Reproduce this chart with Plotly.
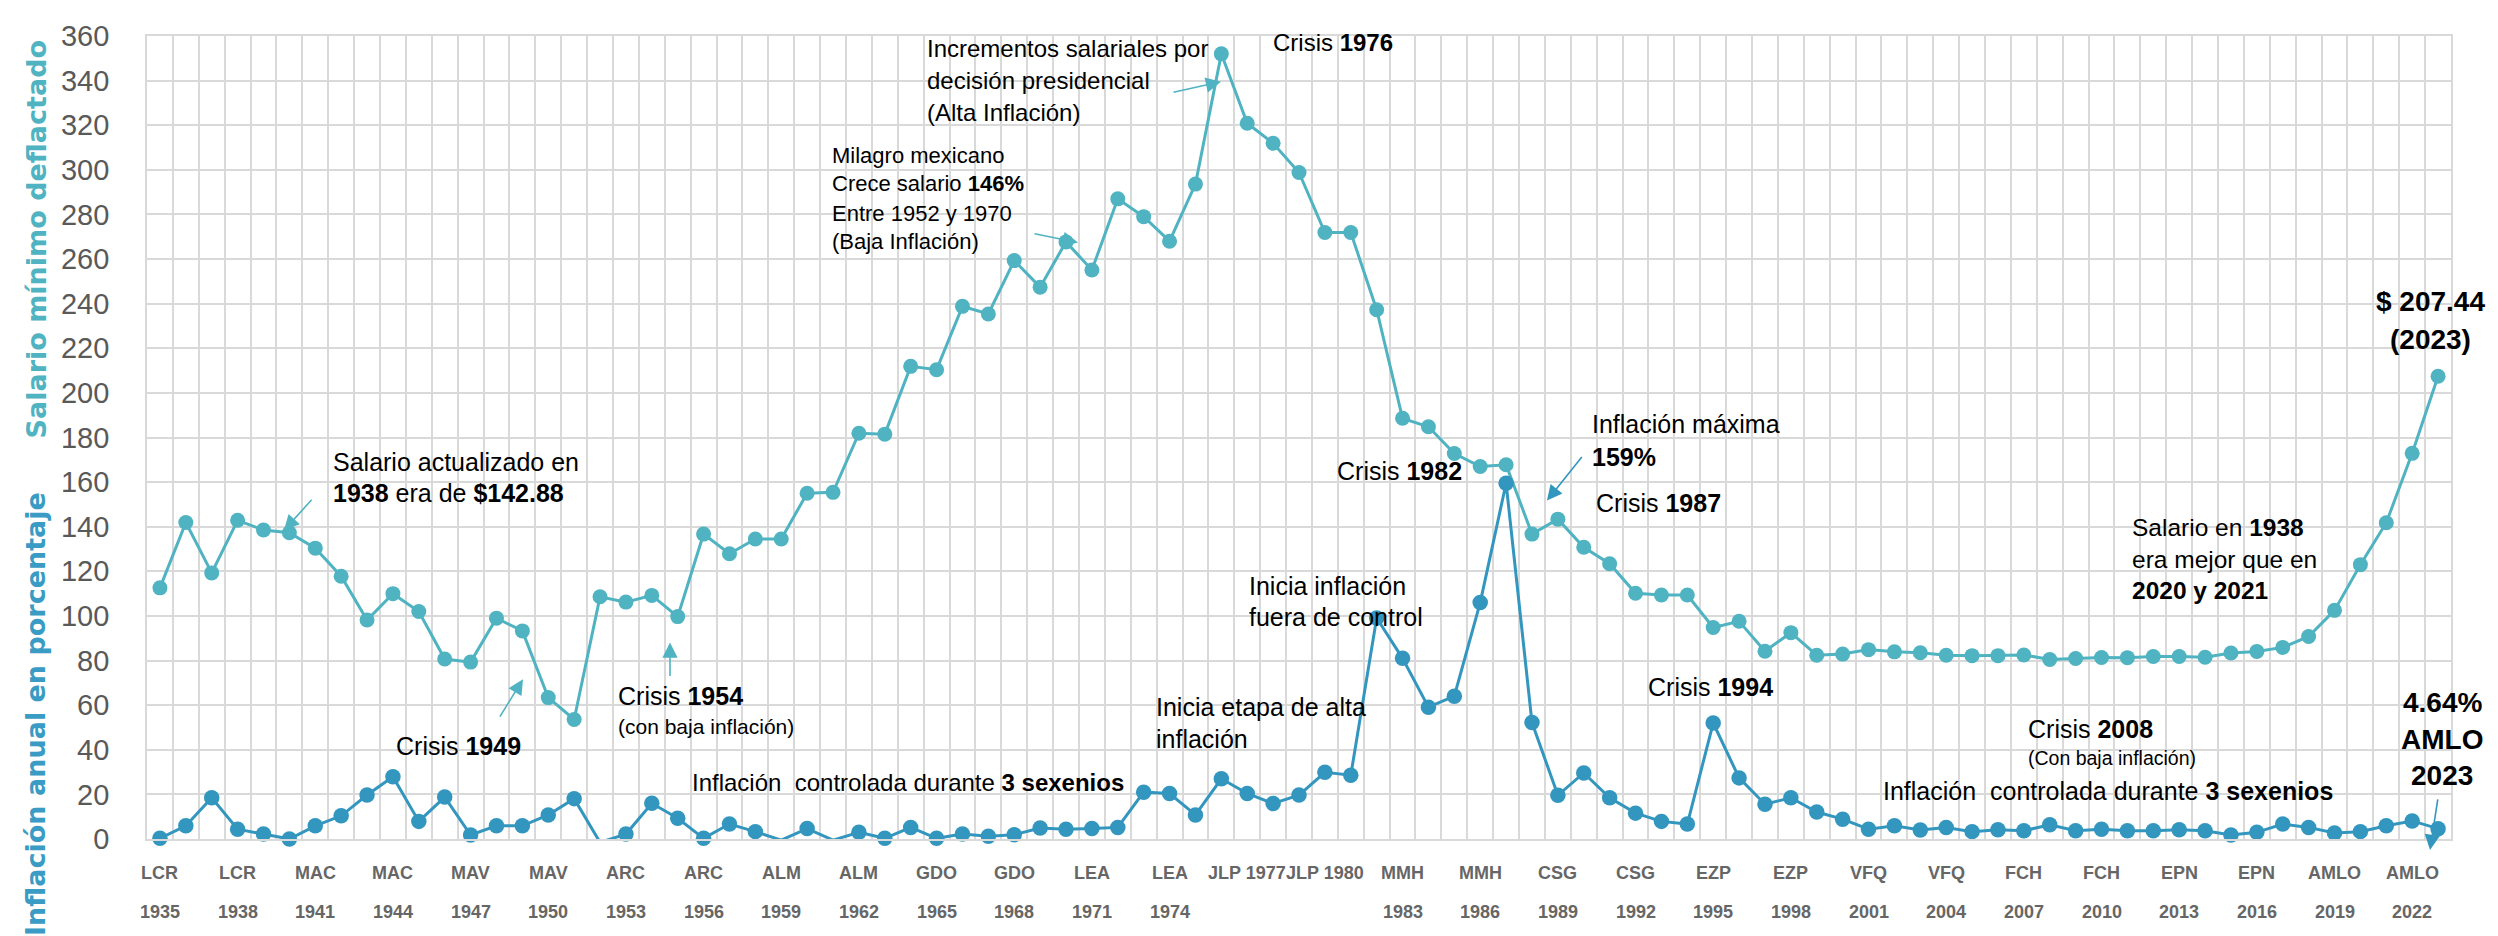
import plotly.graph_objects as go

# ---------------- data ----------------
years = list(range(1935, 2024))

salario = [
    112.6, 141.9, 119.3, 142.88, 138.5, 137.3, 130.4, 117.8, 98.2, 110.0,   # 1935-1944
    102.0, 80.7, 79.3, 99.0, 93.3, 63.4, 53.6, 108.6, 106.2, 109.2,         # 1945-1954
    99.7, 136.7, 127.9, 134.5, 134.5, 155.0, 155.4, 181.9, 181.5, 211.9,    # 1955-1964
    210.4, 238.8, 235.4, 259.3, 247.4, 267.7, 255.1, 287.0, 279.0, 268.0,   # 1965-1974
    293.6, 352.0, 320.9, 311.9, 298.8, 271.9, 271.9, 237.3, 188.6, 184.8,   # 1975-1984
    172.8, 167.0, 167.8, 136.7, 143.4, 130.8, 123.4, 110.2, 109.4, 109.4,   # 1985-1994
    94.8, 97.6, 84.2, 92.5, 82.4, 82.9, 84.9, 83.9, 83.5, 82.4,             # 1995-2004
    82.2, 82.2, 82.5, 80.5, 80.9, 81.4, 81.3, 81.8, 81.8, 81.5,             # 2005-2014
    83.4, 84.1, 85.9, 90.8, 102.5, 123.0, 141.8, 172.9, 207.44,             # 2015-2023
]

inflacion = [
    0.3, 5.9, 18.5, 4.4, 2.2, 0.0, 5.9, 10.4, 19.7, 27.9,                   # 1935-1944
    7.9, 18.8, 1.8, 5.9, 5.9, 10.8, 18.1, -1.5, 2.2, 16.0,                  # 1945-1954
    9.3, 0.3, 6.7, 3.3, -0.5, 4.7, -0.5, 3.0, 0.3, 5.2,                     # 1955-1964
    0.3, 2.2, 1.2, 1.9, 4.9, 4.4, 4.7, 5.2, 21.0, 20.4,                     # 1965-1974
    10.8, 27.0, 20.4, 15.9, 19.7, 29.9, 28.6, 99.1, 81.0, 59.1,             # 1975-1984
    64.0, 106.0, 159.5, 52.2, 19.6, 29.6, 18.5, 11.6, 7.9, 6.7,             # 1985-1994
    52.0, 27.4, 15.6, 18.5, 12.1, 8.9, 4.4, 5.9, 4.0, 5.2,                  # 1995-2004
    3.3, 4.1, 3.7, 6.4, 3.7, 4.4, 3.7, 3.7, 4.1, 3.7,                       # 2005-2014
    1.8, 3.0, 6.7, 5.2, 2.7, 3.3, 5.9, 8.1, 4.64,                           # 2015-2023
]

label_years = list(range(1935, 2023, 3))
pres_labels = ["LCR", "LCR", "MAC", "MAC", "MAV", "MAV", "ARC", "ARC", "ALM", "ALM",
               "GDO", "GDO", "LEA", "LEA", "JLP 1977", "JLP 1980", "MMH", "MMH", "CSG", "CSG",
               "EZP", "EZP", "VFQ", "VFQ", "FCH", "FCH", "EPN", "EPN", "AMLO", "AMLO"]
year_labels = ["1935", "1938", "1941", "1944", "1947", "1950", "1953", "1956", "1959", "1962",
               "1965", "1968", "1971", "1974", "", "", "1983", "1986", "1989", "1992",
               "1995", "1998", "2001", "2004", "2007", "2010", "2013", "2016", "2019", "2022"]

# ---------------- style ----------------
SAL = "#4FB3C1"
INF = "#3396BE"
GRID = "#D9D9D9"
FONT = "Liberation Sans, Arial, sans-serif"
TFONT = "DejaVu Sans, Verdana, sans-serif"

W, H = 2498, 936
L, R, T, B = 139, 55, 22, 105
PW, PH = W - L - R, H - T - B


def P(xp, yp):
    return (xp - L) / PW, (H - B - yp) / PH


fig = go.Figure()

fig.add_trace(go.Scatter(
    x=years, y=salario, mode="lines+markers",
    line=dict(color=SAL, width=3),
    marker=dict(size=15, color=SAL),
    cliponaxis=False, hoverinfo="x+y"))

fig.add_trace(go.Scatter(
    x=years, y=inflacion, mode="lines",
    line=dict(color=INF, width=3), hoverinfo="skip"))

fig.add_trace(go.Scatter(
    x=years, y=[v if v >= 0 else None for v in inflacion], mode="markers",
    marker=dict(size=15.5, color=INF), cliponaxis=False, hoverinfo="x+y"))

ann = []


def text(s, xp, yp, size=25, anchor="left", color="#000000"):
    x, y = P(xp, yp)
    ann.append(dict(text=s, x=x, y=y, xref="paper", yref="paper",
                    xanchor=anchor, yanchor="middle", showarrow=False,
                    font=dict(size=size, color=color, family=FONT)))


def arrow(tx, ty, hx, hy, color):
    x, y = P(hx, hy)
    ann.append(dict(text="", x=x, y=y, xref="paper", yref="paper",
                    ax=tx - hx, ay=ty - hy, showarrow=True, arrowhead=2,
                    arrowsize=1.9, arrowwidth=1.6, arrowcolor=color, standoff=0))


text("Salario actualizado en", 323, 451)
text("<b>1938</b> era de <b>$142.88</b>", 323, 482)
arrow(305, 488, 276, 520, SAL)

text("Crisis <b>1949</b>", 450, 737, anchor="center")
arrow(491, 709, 515, 670, SAL)

text("Crisis <b>1954</b>", 608, 687)
text("(con baja inflación)", 608, 718, size=21)
arrow(662, 668, 662, 633, SAL)

text("Inflación\u00a0 controlada durante <b>3 sexenios</b>", 682, 774, size=24)

for s, yy in zip(["Milagro mexicano", "Crece salario <b>146%</b>",
                  "Entre 1952 y 1970", "(Baja Inflación)"], [142, 171, 201, 229]):
    text(s, 822, yy, size=22)
arrow(1025, 221, 1070, 230, SAL)

for s, yy in zip(["Incrementos salariales por", "decisión presidencial",
                  "(Alta Inflación)"], [35, 67, 99]):
    text(s, 917, yy, size=24)
arrow(1164, 79, 1213, 68, SAL)

text("Crisis <b>1976</b>", 1325, 29, size=24, anchor="center")
text("Crisis <b>1982</b>", 1391, 460, anchor="center")

text("Inflación máxima", 1582, 413)
text("<b>159%</b>", 1582, 446)
arrow(1575, 445, 1539, 490, INF)

text("Crisis <b>1987</b>", 1650, 492, anchor="center")

text("Inicia inflación", 1239, 576)
text("fuera de control", 1239, 607)

text("Inicia etapa de alta", 1146, 698)
text("inflación", 1146, 730)

text("Crisis <b>1994</b>", 1702, 678, anchor="center")

text("Salario en <b>1938</b>", 2122, 517, size=24.5)
text("era mejor que en", 2122, 549, size=24.5)
text("<b>2020 y 2021</b>", 2122, 581, size=24.5)

text("Crisis <b>2008</b>", 2018, 720)
text("(Con baja inflación)", 2018, 749, size=19.5)

text("Inflación\u00a0 controlada durante <b>3 sexenios</b>", 1873, 783, size=25)

text("<b>4.64%</b>", 2434, 693, size=28, anchor="center")
text("<b>AMLO</b>", 2434, 731, size=28, anchor="center")
text("<b>2023</b>", 2434, 767, size=28, anchor="center")
arrow(2430, 790, 2422, 842, INF)

text("<b>$ 207.44</b>", 2422, 289, size=28, anchor="center")
text("<b>(2023)</b>", 2422, 328, size=28, anchor="center")

# axis titles
for s, yy, col in [("<b>Salario mínimo deflactado</b>", 227, SAL),
                   ("<b>Inflación anual en porcentaje</b>", 705, "#3A9BC4")]:
    x, y = P(28, yy)
    ann.append(dict(text=s, x=x, y=y, xref="paper", yref="paper", textangle=-90,
                    xanchor="center", yanchor="middle", showarrow=False,
                    font=dict(size=27, color=col, family=TFONT)))

# x category labels (two rows)
_, y1 = P(0, 865)
_, y2 = P(0, 905)
for yr, p, a in zip(label_years, pres_labels, year_labels):
    ann.append(dict(text="<b>%s</b>" % p, x=yr, y=y1, xref="x", yref="paper",
                    xanchor="center", yanchor="middle", showarrow=False,
                    font=dict(size=18, color="#666666", family=FONT)))
    if a:
        ann.append(dict(text="<b>%s</b>" % a, x=yr, y=y2, xref="x", yref="paper",
                        xanchor="center", yanchor="middle", showarrow=False,
                        font=dict(size=18, color="#666666", family=FONT)))

fig.update_layout(
    width=W, height=H,
    margin=dict(l=L, r=R, t=T, b=B, pad=0),
    plot_bgcolor="white", paper_bgcolor="white",
    showlegend=False,
    annotations=ann,
    xaxis=dict(range=[1934.5, 2023.5], tick0=1934.5, dtick=1, showticklabels=False,
               showgrid=True, gridcolor=GRID, gridwidth=1.75, zeroline=False,
               showline=True, linecolor=GRID, linewidth=1.75, mirror=True, ticks=""),
    yaxis=dict(range=[0, 360], dtick=20, showgrid=True, gridcolor=GRID, gridwidth=1.75,
               zeroline=False, showline=True, linecolor=GRID, linewidth=1.75, mirror=True,
               ticks="", ticklabelstandoff=30,
               tickfont=dict(size=29, color="#595959", family=FONT)),
)

fig.write_html("out.html")
